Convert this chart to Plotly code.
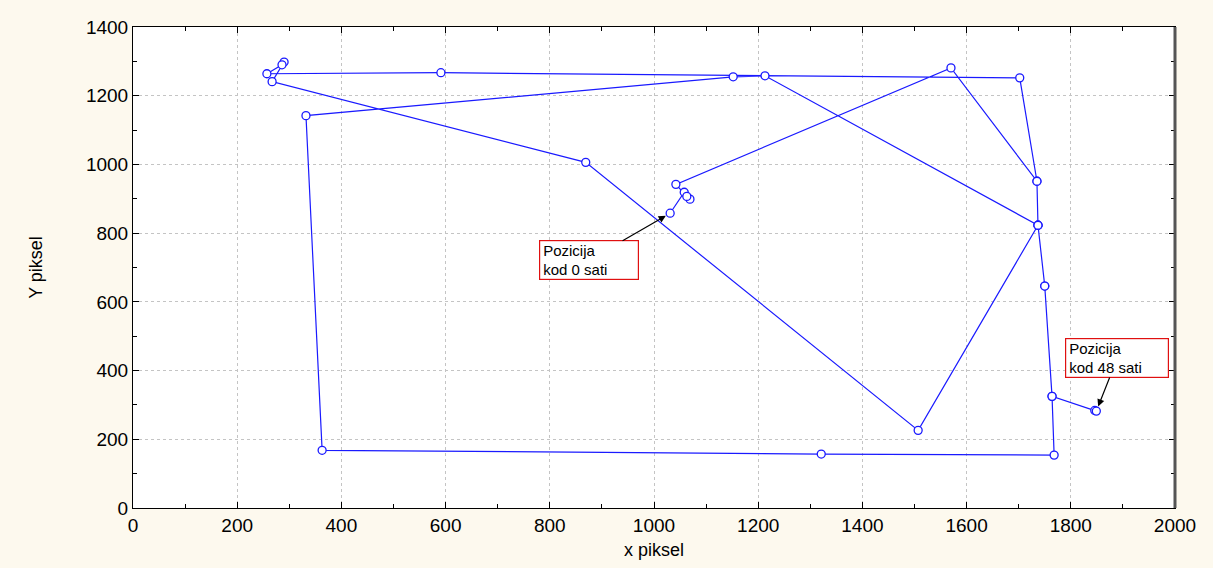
import plotly.graph_objects as go

# Trajectory points (data coordinates, pixels of tracked object), in time order
x_px = [1031, 1058, 1069, 1063, 1042, 1570, 1735, 1737, 1750, 1764, 1768, 1321, 363, 332,
        1152, 1213, 1737, 1507, 869, 267, 290, 286, 257, 591, 1702, 1735, 1737, 1750, 1764,
        1846, 1849]
y_px = [858, 919, 899, 907, 942, 1281, 951, 823, 646, 325, 154, 157, 168, 1142,
        1255, 1258, 823, 226, 1006, 1241, 1298, 1290, 1264, 1267, 1252, 951, 823, 646, 325,
        284, 282]

x_ticks = [0, 200, 400, 600, 800, 1000, 1200, 1400, 1600, 1800, 2000]
y_ticks = [0, 200, 400, 600, 800, 1000, 1200, 1400]

label_start = "Pozicija<br>kod 0 sati"
label_end = "Pozicija<br>kod 48 sati"

FONT = "Liberation Sans, Arial, sans-serif"
BLUE = "#1a1aff"

fig = go.Figure()
fig.add_trace(go.Scatter(
    x=x_px, y=y_px, mode="lines+markers",
    line=dict(color=BLUE, width=1.2),
    marker=dict(symbol="circle", size=8, color="white", line=dict(color=BLUE, width=1.3)),
    showlegend=False, hoverinfo="x+y",
))

axis_common = dict(
    showline=True, linecolor="black", linewidth=1, mirror="ticks",
    ticks="inside", ticklen=6, tickcolor="black",
    showgrid=True, gridcolor="#c4c4c4", griddash="dot", gridwidth=1,
    zeroline=False,
    tickfont=dict(family=FONT, size=19, color="black"),
    minor=dict(ticks="inside", ticklen=4, tickcolor="black", showgrid=False),
)

fig.update_xaxes(
    range=[0, 2000], tickvals=x_ticks, ticktext=[str(v) for v in x_ticks],
    minor_dtick=100,
    title=dict(text="x piksel", font=dict(family=FONT, size=18, color="black"), standoff=8),
    **axis_common,
)
fig.update_yaxes(
    range=[0, 1400], tickvals=y_ticks, ticktext=[str(v) for v in y_ticks],
    minor_dtick=100,
    title=dict(text="Y piksel", font=dict(family=FONT, size=18, color="black"), standoff=38),
    **axis_common,
)

# right frame edge drawn heavier, as in the reference
fig.add_shape(type="line", xref="paper", yref="paper", x0=1, x1=1, y0=0, y1=1,
              line=dict(color="#555555", width=3))

fig.add_annotation(
    x=x_px[0], y=y_px[0], xref="x", yref="y", text=label_start, align="left",
    showarrow=True, arrowhead=2, arrowsize=1.2, arrowwidth=1.2, arrowcolor="black",
    ax=-81, ay=47, standoff=5, width=92, height=32,
    font=dict(family=FONT, size=15, color="black"),
    bgcolor="white", bordercolor="#e01010", borderwidth=1.2, borderpad=3,
)
fig.add_annotation(
    x=x_px[-1], y=y_px[-1], xref="x", yref="y", text=label_end, align="left",
    showarrow=True, arrowhead=2, arrowsize=1.2, arrowwidth=1.2, arrowcolor="black",
    ax=21, ay=-53, standoff=5, width=96, height=32,
    font=dict(family=FONT, size=15, color="black"),
    bgcolor="white", bordercolor="#e01010", borderwidth=1.2, borderpad=3,
)

fig.update_layout(
    width=1213, height=568,
    margin=dict(l=133, r=38, t=27, b=57),
    paper_bgcolor="#fdf9ee", plot_bgcolor="white",
    font=dict(family=FONT, color="black"),
)

fig.write_html("out.html", config={"displayModeBar": False},
               post_script="document.body.style.margin='0';")
